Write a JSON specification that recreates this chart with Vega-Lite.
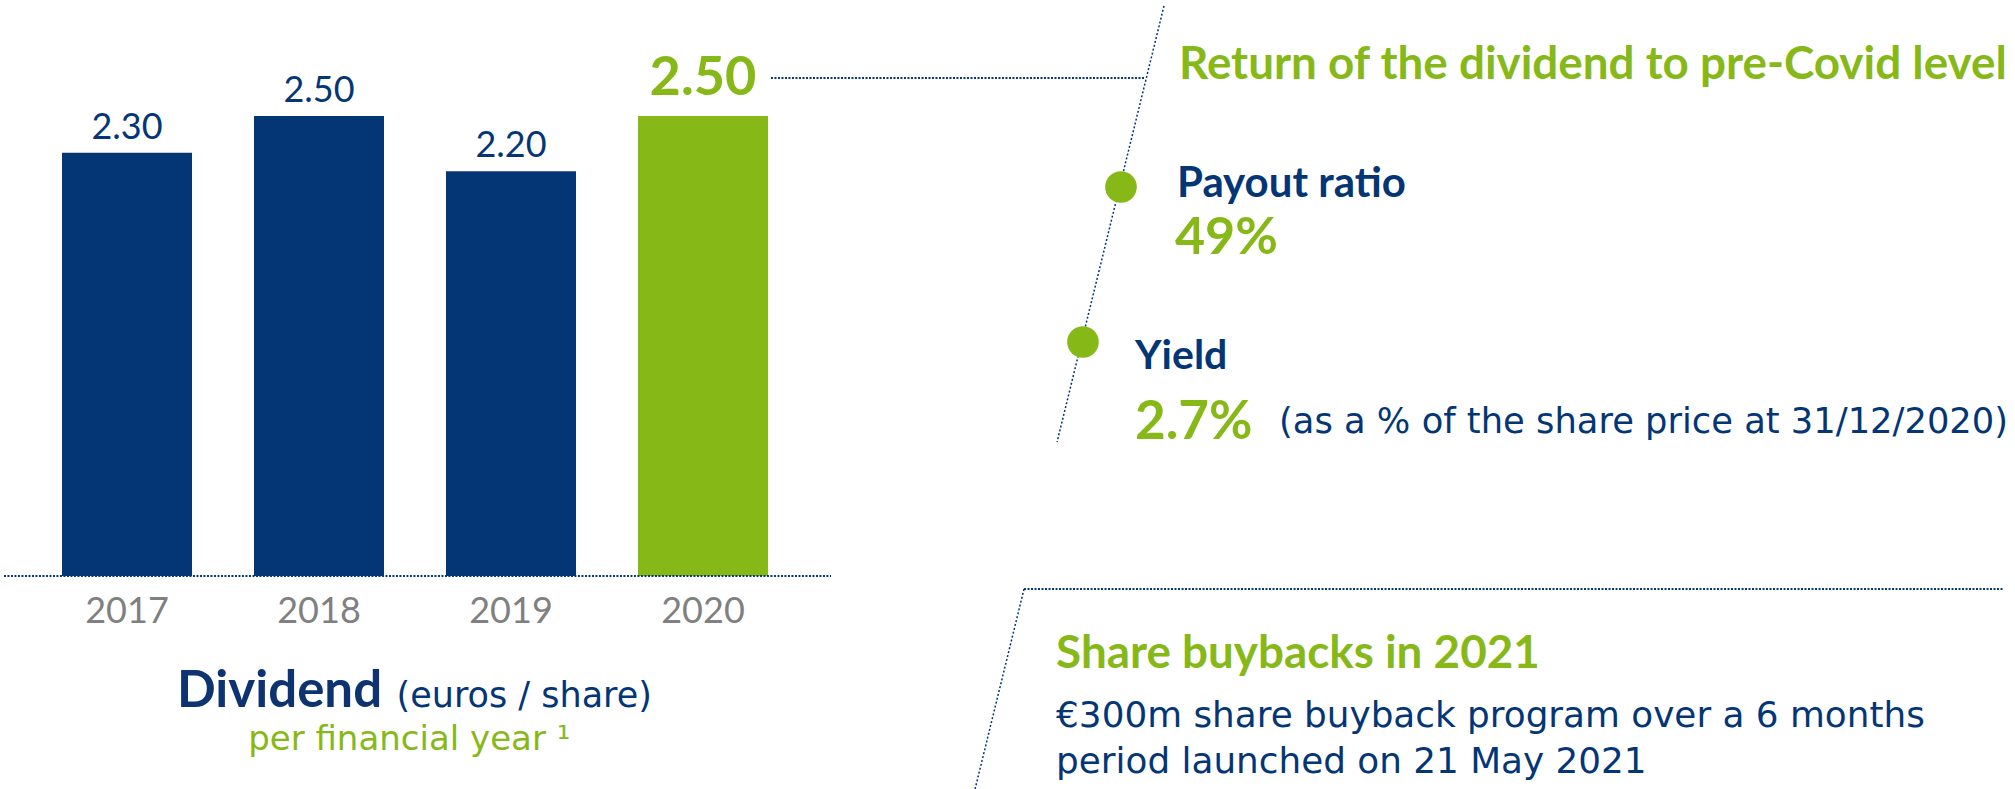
{
  "$schema": "https://vega.github.io/schema/vega-lite/v6.json",
  "width": 2015,
  "height": 789,
  "autosize": {"type": "none"},
  "padding": 0,
  "background": "white",
  "config": {"view": {"stroke": null}},
  "datasets": {
    "dividends": [
      {"year": 2017, "dividend": 2.30},
      {"year": 2018, "dividend": 2.50},
      {"year": 2019, "dividend": 2.20},
      {"year": 2020, "dividend": 2.50}
    ]
  },
  "data": {"name": "dividends"},
  "encoding": {
    "x": {"type": "quantitative", "scale": {"domain": [2016.3385, 2026.8333], "nice": false, "zero": false, "padding": 0}, "axis": null},
    "y": {"type": "quantitative", "scale": {"domain": [-1.1576, 3.1304], "nice": false, "zero": false, "padding": 0}, "axis": null}
  },
  "layer": [
    {
      "mark": {"type": "bar", "width": 130, "orient": "vertical"},
      "encoding": {
        "x": {"field": "year", "type": "quantitative"},
        "y": {"field": "dividend", "type": "quantitative"},
        "y2": {"datum": 0},
        "color": {"condition": {"test": "datum.year == 2020", "value": "#86b918"}, "value": "#043675"}
      }
    },
    {
      "transform": [{"filter": "datum.year != 2020"}],
      "mark": {"type": "text", "align": "center", "baseline": "alphabetic", "dy": -14, "font": "Lato", "fontSize": 36, "color": "#043675"},
      "encoding": {
        "x": {"field": "year", "type": "quantitative"},
        "y": {"field": "dividend", "type": "quantitative"},
        "text": {"field": "dividend", "type": "quantitative", "format": ".2f"}
      }
    },
    {
      "transform": [{"filter": "datum.year == 2020"}],
      "mark": {"type": "text", "align": "center", "baseline": "alphabetic", "dy": -21, "font": "Lato", "fontWeight": "bold", "fontSize": 54, "color": "#86b918"},
      "encoding": {
        "x": {"field": "year", "type": "quantitative"},
        "y": {"field": "dividend", "type": "quantitative"},
        "text": {"field": "dividend", "type": "quantitative", "format": ".2f"}
      }
    },
    {
      "mark": {"type": "text", "align": "center", "baseline": "alphabetic", "dy": 47, "font": "Lato", "fontSize": 36, "color": "#808080"},
      "encoding": {
        "x": {"field": "year", "type": "quantitative"},
        "y": {"datum": 0},
        "text": {"field": "year", "type": "quantitative", "format": "d"}
      }
    },
    {
      "data": {"values": [{"part": "baseline"}]},
      "mark": {"type": "rule", "color": "#043675", "strokeWidth": 2, "strokeDash": [2, 1.5]},
      "encoding": {"x": {"datum": 2016.359}, "x2": {"datum": 2020.667}, "y": {"datum": 0}}
    },
    {
      "data": {"values": [{"part": "leader"}]},
      "mark": {"type": "rule", "color": "#043675", "strokeWidth": 2, "strokeDash": [2, 1.5]},
      "encoding": {"x": {"datum": 2020.354}, "x2": {"datum": 2022.302}, "y": {"datum": 2.7065}}
    },
    {
      "data": {"values": [{"part": "diagonal top"}]},
      "mark": {"type": "rule", "color": "#043675", "strokeWidth": 1.5, "strokeDash": [2, 2]},
      "encoding": {"x": {"datum": 2022.401}, "y": {"datum": 3.098}, "x2": {"datum": 2021.844}, "y2": {"datum": 0.7283}}
    },
    {
      "data": {"values": [{"part": "lower rule"}]},
      "mark": {"type": "rule", "color": "#043675", "strokeWidth": 2, "strokeDash": [2, 1.5]},
      "encoding": {"x": {"datum": 2021.672}, "x2": {"datum": 2026.771}, "y": {"datum": -0.0707}}
    },
    {
      "data": {"values": [{"part": "diagonal bottom"}]},
      "mark": {"type": "rule", "color": "#043675", "strokeWidth": 1.5, "strokeDash": [2, 2]},
      "encoding": {"x": {"datum": 2021.672}, "y": {"datum": -0.0707}, "x2": {"datum": 2021.417}, "y2": {"datum": -1.1576}}
    },
    {
      "data": {"values": [{"point": "Payout ratio"}]},
      "mark": {"type": "circle", "size": 1000, "opacity": 1, "color": "#86b918"},
      "encoding": {"x": {"datum": 2022.177}, "y": {"datum": 2.114}}
    },
    {
      "data": {"values": [{"point": "Yield"}]},
      "mark": {"type": "circle", "size": 1000, "opacity": 1, "color": "#86b918"},
      "encoding": {"x": {"datum": 2021.979}, "y": {"datum": 1.2717}}
    },
    {
      "data": {"values": [{"label": "Dividend"}]},
      "mark": {"type": "text", "align": "left", "baseline": "alphabetic", "font": "Lato", "fontWeight": "bold", "fontSize": 51, "color": "#0d3470"},
      "encoding": {"x": {"datum": 2017.2604}, "y": {"datum": -0.712}, "text": {"field": "label"}}
    },
    {
      "data": {"values": [{"label": "(euros / share)"}]},
      "mark": {"type": "text", "align": "right", "baseline": "alphabetic", "font": "DejaVu Sans", "fontSize": 35, "color": "#043675"},
      "encoding": {"x": {"datum": 2019.734}, "y": {"datum": -0.712}, "text": {"field": "label"}}
    },
    {
      "data": {"values": [{"label": "per financial year ¹"}]},
      "mark": {"type": "text", "align": "center", "baseline": "alphabetic", "font": "DejaVu Sans", "fontSize": 34, "color": "#86b918"},
      "encoding": {"x": {"datum": 2018.47}, "y": {"datum": -0.9457}, "text": {"field": "label"}}
    },
    {
      "data": {"values": [{"label": "Return of the dividend to pre-Covid level"}]},
      "mark": {"type": "text", "align": "left", "baseline": "alphabetic", "font": "Lato", "fontWeight": "bold", "fontSize": 45.8, "color": "#86b918"},
      "encoding": {"x": {"datum": 2022.479}, "y": {"datum": 2.701}, "text": {"field": "label"}}
    },
    {
      "data": {"values": [{"label": "Payout ratio"}]},
      "mark": {"type": "text", "align": "left", "baseline": "alphabetic", "font": "Lato", "fontWeight": "bold", "fontSize": 42, "color": "#043675"},
      "encoding": {"x": {"datum": 2022.469}, "y": {"datum": 2.0598}, "text": {"field": "label"}}
    },
    {
      "data": {"values": [{"label": "49%"}]},
      "mark": {"type": "text", "align": "left", "baseline": "alphabetic", "font": "Lato", "fontWeight": "bold", "fontSize": 52, "color": "#86b918"},
      "encoding": {"x": {"datum": 2022.458}, "y": {"datum": 1.75}, "text": {"field": "label"}}
    },
    {
      "data": {"values": [{"label": "Yield"}]},
      "mark": {"type": "text", "align": "left", "baseline": "alphabetic", "font": "Lato", "fontWeight": "bold", "fontSize": 41, "color": "#043675"},
      "encoding": {"x": {"datum": 2022.25}, "y": {"datum": 1.125}, "text": {"field": "label"}}
    },
    {
      "data": {"values": [{"label": "2.7%"}]},
      "mark": {"type": "text", "align": "left", "baseline": "alphabetic", "font": "Lato", "fontWeight": "bold", "fontSize": 53, "color": "#86b918"},
      "encoding": {"x": {"datum": 2022.25}, "y": {"datum": 0.7446}, "text": {"field": "label"}}
    },
    {
      "data": {"values": [{"label": "(as a % of the share price at 31/12/2020)"}]},
      "mark": {"type": "text", "align": "left", "baseline": "alphabetic", "font": "DejaVu Sans", "fontSize": 35.3, "color": "#043675"},
      "encoding": {"x": {"datum": 2023.0}, "y": {"datum": 0.7772}, "text": {"field": "label"}}
    },
    {
      "data": {"values": [{"label": "Share buybacks in 2021"}]},
      "mark": {"type": "text", "align": "left", "baseline": "alphabetic", "font": "Lato", "fontWeight": "bold", "fontSize": 45.8, "color": "#86b918"},
      "encoding": {"x": {"datum": 2021.839}, "y": {"datum": -0.5}, "text": {"field": "label"}}
    },
    {
      "data": {"values": [{"label": "€300m share buyback program over a 6 months"}]},
      "mark": {"type": "text", "align": "left", "baseline": "alphabetic", "font": "DejaVu Sans", "fontSize": 35.8, "color": "#043675"},
      "encoding": {"x": {"datum": 2021.839}, "y": {"datum": -0.8207}, "text": {"field": "label"}}
    },
    {
      "data": {"values": [{"label": "period launched on 21 May 2021"}]},
      "mark": {"type": "text", "align": "left", "baseline": "alphabetic", "font": "DejaVu Sans", "fontSize": 35.8, "color": "#043675"},
      "encoding": {"x": {"datum": 2021.839}, "y": {"datum": -1.0707}, "text": {"field": "label"}}
    }
  ]
}
